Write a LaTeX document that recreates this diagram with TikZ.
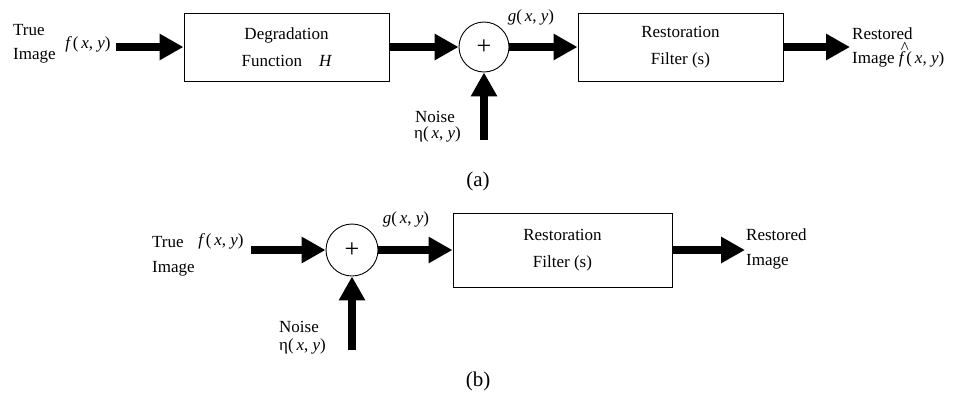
\documentclass[tikz,border=0pt]{standalone}
\usepackage{fontspec}
\setmainfont{Liberation Serif}
\usetikzlibrary{arrows.meta}

\newcommand{\fxy}[1]{{\itshape #1}\,(\,{\itshape x}, {\itshape y})}
% f with a circumflex set well above it (smashed so the line height is unchanged)
\newcommand{\fhatxy}{\makebox[0pt][l]{\smash{\hspace{0.12em}\raisebox{0.58em}{\^{}}}}\fxy{f}}

\begin{document}
\begin{tikzpicture}[x=1pt, y=-1pt,
    txt/.style={font=\fontsize{17}{20}\selectfont, inner sep=0pt},
    lbl/.style={txt, anchor=west},
    blockbox/.style={draw, line width=1pt, inner sep=0pt,
      font=\fontsize{17}{27}\selectfont, align=center},
    sumnode/.style={draw, circle, line width=0.9pt, inner sep=0pt,
      font=\fontsize{26}{26}\selectfont},
    flow/.style={line width=8.5pt, -{Triangle[length=24pt, width=25pt]}},
    caption/.style={font=\fontsize{21}{24}\selectfont, inner sep=0pt}]

  \useasboundingbox (0,0) rectangle (953,402);

  % ---------- (a) degradation / restoration model ----------
  \node[lbl] (trueA)  at (13,30) {True};
  \node[lbl] (imageA) at (13,56) {Image};
  \node[txt] (fA) at (88,44) {\fxy{f}};
  \coordinate (inA) at (116,47);

  \node[blockbox, minimum width=205pt, minimum height=68pt] (deg) at (286.5,47)
    {Degradation\\Function\quad{\itshape H}};
  \node[sumnode, minimum size=50pt] (sumA) at (484,47) {\raisebox{-0.05em}{+}};
  \node[txt] (gA) at (531,17) {{\itshape g}(\,{\itshape x}, {\itshape y})};
  \node[blockbox, minimum width=205pt, minimum height=68pt] (restA) at (680.5,47)
    {Restoration\\Filter (s)};
  \coordinate (outA) at (850,47);
  \node[lbl] (restoredA) at (852,34) {Restored};
  \node[lbl] (imgoutA) at (852,59) {Image \fhatxy};

  \coordinate (noiseA) at (484,140);
  \node[lbl] (noiseTxtA) at (415,117) {Noise};
  \node[lbl] (etaA) at (414,134) {η(\,{\itshape x}, {\itshape y})};

  \draw[flow] (inA) -- (deg.west);
  \draw[flow] (deg.east) -- (sumA.west);
  \draw[flow] (sumA.east) -- (restA.west);
  \draw[flow] (restA.east) -- (outA);
  \draw[flow] (noiseA) -- (sumA.south);

  \node[caption] (capA) at (478,181) {(a)};

  % ---------- (b) noise-only model ----------
  \node[lbl] (trueB)  at (152,242) {True};
  \node[lbl] (imageB) at (152,269) {Image};
  \node[txt] (fB) at (221,241) {\fxy{f}};
  \coordinate (inB) at (251,250);

  \node[sumnode, minimum size=52pt] (sumB) at (352,250) {\raisebox{-0.05em}{+}};
  \node[txt] (gB) at (406,219) {{\itshape g}(\,{\itshape x}, {\itshape y})};
  \node[blockbox, minimum width=219pt, minimum height=74pt] (restB) at (562.5,250)
    {Restoration\\Filter (s)};
  \coordinate (outB) at (745,250);
  \node[lbl] (restoredB) at (746,235) {Restored};
  \node[lbl] (imgoutB) at (746,262) {Image};

  \coordinate (noiseB) at (352,350);
  \node[lbl] (noiseTxtB) at (279,327) {Noise};
  \node[lbl] (etaB) at (279,346) {η(\,{\itshape x}, {\itshape y})};

  \draw[flow] (inB) -- (sumB.west);
  \draw[flow] (sumB.east) -- (restB.west);
  \draw[flow] (restB.east) -- (outB);
  \draw[flow] (noiseB) -- (sumB.south);

  \node[caption] (capB) at (478,381) {(b)};
\end{tikzpicture}
\end{document}
